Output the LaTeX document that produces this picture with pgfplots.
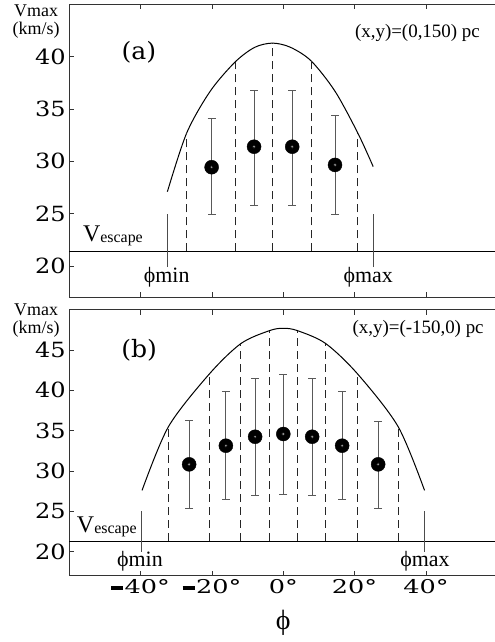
\documentclass[border=0pt]{standalone}
\usepackage{fontspec}
\setmainfont{Liberation Serif}
\newfontfamily\tickfont[FakeStretch=1.15]{DejaVu Serif}
\newfontfamily\xtickfont[FakeStretch=1.35]{DejaVu Serif}
\newfontfamily\labfont[FakeStretch=1.05]{DejaVu Serif}
\usepackage{pgfplots}
\pgfplotsset{compat=1.18}

\newcommand\mn{\rule[0.16em]{0.63em}{0.24em}\kern0.08em}
\newcommand\vesc{{\fontsize{24}{24}\selectfont V}\raisebox{-1pt}{\fontsize{16}{16}\selectfont escape}}

\tikzset{txt/.style={font=\fontsize{19}{19}\selectfont, inner sep=1pt},
  unit/.style={font=\fontsize{18}{18}\selectfont, inner sep=0pt},
  phi/.style={font=\fontsize{22}{22}\selectfont, inner sep=1pt}}
\pgfplotsset{
  panel/.style={
    scale only axis, width=428bp,
    xmin=-60, xmax=60, ymin=17,
    anchor=south west, clip=false,
    xtick={-40,-20,0,20,40},
    ytick pos=left,
    tick align=inside, major tick length=5bp,
    axis line style={black!80, line width=0.9bp},
    every tick/.style={black!80, line width=0.9bp},
    /pgf/number format/assume math mode=true,
    yticklabel style={font=\tickfont\fontsize{21}{21}\selectfont},
  },
  dashline/.style={black!85, line width=0.9bp, dash pattern=on 8bp off 5bp},
  curve/.style={black, line width=1bp, smooth},
  philine/.style={black!70, line width=1bp},
  esc/.style={black, line width=0.9bp},
  pts/.style={only marks, mark=*, mark size=7bp, mark options={fill=black, draw=black},
    error bars/.cd, y dir=both, y explicit,
    error bar style={draw=black!65, line width=0.9bp},
    error mark=-,
    error mark options={rotate=90, draw=black!65, line width=0.9bp, mark size=4bp}},
  ctr/.style={only marks, mark=*, mark size=1.6bp, mark options={fill=black!40, draw=none}},
}

\begin{document}
\begin{tikzpicture}
\useasboundingbox (0,0) rectangle (495bp,642bp);

% panel (a)
\begin{axis}[panel, at={(69.3bp,344.6bp)}, height=293bp, ymax=45,
  ytick={20,25,30,35,40}, xticklabels={}]
  \addplot[esc] coordinates {(-60,21.4) (60,21.4)};
  \addplot[curve] coordinates {(-32.5,27.1) (-27.1,32.7) (-20.5,36.7) (-13.5,39.5) (-8,40.9)
    (-3,41.3) (2,40.9) (7.8,39.6) (14.5,36.7) (20.9,32.7) (25.2,29.5)};
  \addplot[dashline] coordinates {(-27.1,21.4) (-27.1,32.7)};
  \addplot[dashline] coordinates {(-13.5,21.4) (-13.5,39.5)};
  \addplot[dashline] coordinates {(-3.0,21.4) (-3.0,41.3)};
  \addplot[dashline] coordinates {(7.8,21.4) (7.8,39.6)};
  \addplot[dashline] coordinates {(20.9,21.4) (20.9,32.7)};
  \addplot[philine] coordinates {(-32.5,19.9) (-32.5,25.0)};
  \addplot[philine] coordinates {(25.4,19.9) (25.4,25.0)};
  \addplot[pts] coordinates {
    (-20.1,29.44) += (0,4.68) -= (0,4.56)
    (-8.2,31.4) += (0,5.4) -= (0,5.57)
    (2.5,31.4) += (0,5.4) -= (0,5.57)
    (14.5,29.66) += (0,4.71) -= (0,4.69)};
  \addplot[ctr] coordinates {(-20.1,29.44) (-8.2,31.4) (2.5,31.4) (14.5,29.66)};
  \node[phi] at (axis cs:-32.7,18.9) {ϕmin};
  \node[phi] at (axis cs:23.8,18.9) {ϕmax};
  \node[anchor=base west, inner sep=0] at (axis cs:-56.2,22.3) {\vesc};
  \node[font=\labfont\fontsize{24}{24}\selectfont] at (axis cs:-40.5,40.45) {(a)};
  \node[txt] at (axis cs:37.6,42.27) {(x,y)=(0,150) pc};
  \node[unit] at (axis cs:-69.3,44.4) {Vmax};
  \node[unit] at (axis cs:-69.3,42.55) {(km/s)};
\end{axis}

% panel (b)
\begin{axis}[panel, at={(69.3bp,66.1bp)}, height=266.2bp, ymax=50,
  ytick={20,25,30,35,40,45},
  xticklabels={\mn40°,\mn20°,0°,20°,40°},
  xticklabel style={font=\xtickfont\fontsize{19}{19}\selectfont}]
  \addplot[esc] coordinates {(-60,21.33) (60,21.33)};
  \addplot[curve] coordinates {(-39.6,27.6) (-32.2,35.5) (-20.8,42.0) (-11.9,45.8) (-3.9,47.4)
    (0,47.7) (4.0,47.4) (11.9,45.8) (20.9,42.0) (32.2,35.5) (39.6,27.6)};
  \addplot[dashline] coordinates {(-32.2,21.33) (-32.2,35.5)};
  \addplot[dashline] coordinates {(-20.8,21.33) (-20.8,42.0)};
  \addplot[dashline] coordinates {(-11.9,21.33) (-11.9,45.8)};
  \addplot[dashline] coordinates {(-3.9,21.33) (-3.9,47.4)};
  \addplot[dashline] coordinates {(4.0,21.33) (4.0,47.4)};
  \addplot[dashline] coordinates {(11.9,21.33) (11.9,45.8)};
  \addplot[dashline] coordinates {(20.9,21.33) (20.9,42.0)};
  \addplot[dashline] coordinates {(32.2,21.33) (32.2,35.5)};
  \addplot[philine] coordinates {(-39.7,20.0) (-39.7,25.0)};
  \addplot[philine] coordinates {(39.7,20.0) (39.7,25.0)};
  \addplot[pts] coordinates {
    (-26.4,30.83) += (0,5.41) -= (0,5.45)
    (-16.1,33.14) += (0,6.78) -= (0,6.61)
    (-7.9,34.25) += (0,7.24) -= (0,7.22)
    (0,34.59) += (0,7.44) -= (0,7.48)
    (8.1,34.25) += (0,7.24) -= (0,7.22)
    (16.5,33.14) += (0,6.69) -= (0,6.61)
    (26.6,30.83) += (0,5.37) -= (0,5.45)};
  \addplot[ctr] coordinates {(-26.4,30.83) (-16.1,33.14) (-7.9,34.25) (0,34.59)
    (8.1,34.25) (16.5,33.14) (26.6,30.83)};
  \node[phi] at (axis cs:-40.2,18.76) {ϕmin};
  \node[phi] at (axis cs:39.7,18.76) {ϕmax};
  \node[anchor=base west, inner sep=0] at (axis cs:-57.9,22.36) {\vesc};
  \node[font=\labfont\fontsize{24}{24}\selectfont] at (axis cs:-40.4,45.0) {(b)};
  \node[txt] at (axis cs:37.8,47.57) {(x,y)=(-150,0) pc};
  \node[unit] at (axis cs:-69.3,49.95) {Vmax};
  \node[unit] at (axis cs:-69.3,47.6) {(km/s)};
\end{axis}

\node[font=\fontsize{28}{28}\selectfont] at (283.3bp,19bp) {ϕ};
\end{tikzpicture}
\end{document}
